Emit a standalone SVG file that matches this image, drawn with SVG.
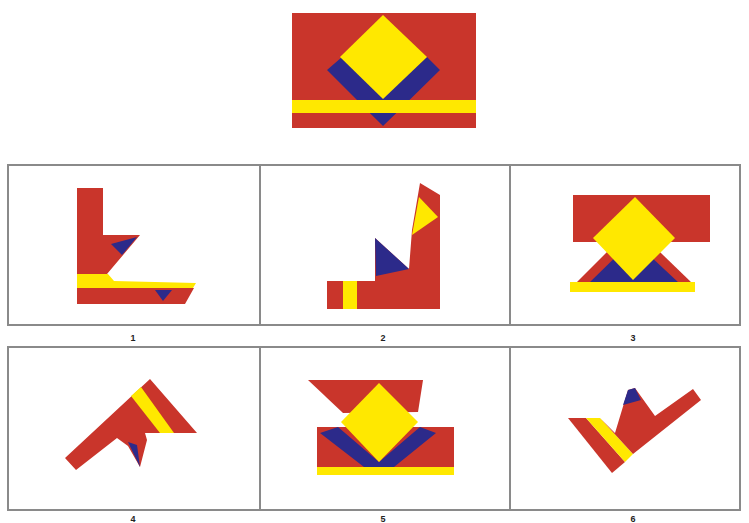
<svg xmlns="http://www.w3.org/2000/svg" width="749" height="523" viewBox="0 0 749 523">
<style>
.r{fill:#c9352b}
.y{fill:#ffe800}
.b{fill:#2c2a8a}
.frame{fill:none;stroke:#8a8a8a;stroke-width:2}
.lbl{font-family:"Liberation Sans",Arial,sans-serif;font-size:9px;font-weight:bold;fill:#222;text-anchor:middle}
</style>
<rect width="749" height="523" fill="#fff"/>
<g id="reference">
<rect class="r" x="292" y="13" width="184" height="115"/>
<polygon class="b" points="342,57 383,97 427,57 440,70 383,126 327,70"/>
<polygon class="y" points="383,15 427,57 383,99 340,57"/>
<rect class="y" x="292" y="100" width="184" height="13"/>
<polygon class="b" points="370,113 396,113 383,125"/>
</g>
<g id="frames">
<rect class="frame" x="8" y="165" width="732" height="160"/>
<line class="frame" x1="260" y1="165" x2="260" y2="325"/>
<line class="frame" x1="510" y1="165" x2="510" y2="325"/>
<rect class="frame" x="8" y="347" width="732" height="163"/>
<line class="frame" x1="260" y1="347" x2="260" y2="510"/>
<line class="frame" x1="510" y1="347" x2="510" y2="510"/>
</g>
<g id="option1">
<polygon class="r" points="77,188 103,188 103,235 140,235 107,274 77,274"/>
<polygon class="b" points="111,244 137,237 122,255"/>
<polygon class="y" points="77,274 108,274 114,281 196,283 193,288 77,288"/>
<polygon class="r" points="77,288 194,288 185,304 77,304"/>
<polygon class="b" points="155,290 172,290 163,301"/>
<text class="lbl" x="133" y="341">1</text>
</g>
<g id="option2">
<polygon class="r" points="327,281 375,281 375,238 409,269 412,230 420,183 440,195 440,309 327,309"/>
<polygon class="b" points="375,238 409,269 376,276"/>
<polygon class="y" points="419,197 438,217 412,235"/>
<rect class="y" x="343" y="281" width="14" height="28"/>
<text class="lbl" x="383" y="341">2</text>
</g>
<g id="option3">
<rect class="r" x="573" y="195" width="137" height="47"/>
<polygon class="r" points="576,283 633,226 692,283"/>
<polygon class="b" points="589,283 633,240 679,283"/>
<polygon class="y" points="635,197 675,238 633,280 593,238"/>
<rect class="y" x="570" y="282" width="125" height="10"/>
<text class="lbl" x="633" y="341">3</text>
</g>
<g id="option4">
<polygon class="r" points="65,458 150,379 197,433 145,433 147,440 140,467 128,446 117,438 76,470"/>
<polygon class="y" points="131,396 141,387 174,433 160,433"/>
<polygon class="b" points="128,442 137,445 140,467"/>
<text class="lbl" x="133" y="522">4</text>
</g>
<g id="option5">
<polygon class="r" points="308,380 423,380 418,412 343,413"/>
<rect class="r" x="317" y="427" width="137" height="40"/>
<polygon class="b" points="320,433 338,427 379,462 420,427 436,433 394,467 364,467"/>
<polygon class="y" points="379,383 418,422 379,462 341,422"/>
<rect class="y" x="317" y="467" width="137" height="8"/>
<text class="lbl" x="383" y="522">5</text>
</g>
<g id="option6">
<polygon class="r" points="568,418 586,418 625,462 612,473"/>
<polygon class="y" points="586,418 600,418 633,454 625,462"/>
<polygon class="r" points="600,418 615,433 628,390 635,388 655,416 693,389 701,400 633,454"/>
<polygon class="b" points="628,390 635,388 641,400 623,405"/>
<text class="lbl" x="633" y="522">6</text>
</g>
</svg>
